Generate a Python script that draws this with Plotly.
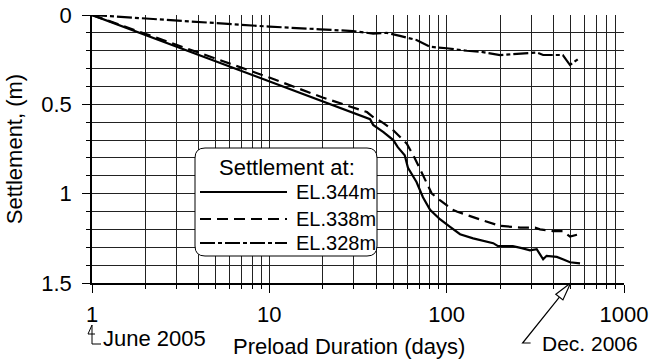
import math
import plotly.graph_objects as go

# Preload duration (days) and settlement (m) for each settlement plate
days_344 = [1, 2, 5, 10, 20, 30, 37, 38.5, 44, 50, 53, 58, 60.5, 67.6, 73.5, 80.6,
            91.6, 104.5, 119, 141, 160, 183, 194, 236, 265, 295, 322, 350, 366,
            418, 452, 496, 565]
settle_344 = [0, 0.112, 0.26, 0.372, 0.484, 0.549, 0.583, 0.615, 0.655, 0.70, 0.74,
              0.785, 0.855, 0.935, 1.02, 1.09, 1.143, 1.186, 1.227, 1.25, 1.264,
              1.277, 1.292, 1.294, 1.305, 1.317, 1.311, 1.367, 1.348, 1.354, 1.367,
              1.384, 1.39]

days_338 = [1, 2, 5, 10, 20, 30, 35.5, 38.5, 44, 50, 59.6, 66, 73.5, 82.5, 91.6,
            108, 114, 130, 148, 160, 200, 260, 315, 336, 398, 452, 496, 543]
settle_338 = [0, 0.105, 0.245, 0.35, 0.462, 0.52, 0.543, 0.571, 0.605, 0.645, 0.72,
              0.80, 0.90, 1.0, 1.036, 1.09, 1.10, 1.12, 1.14, 1.15, 1.18, 1.19,
              1.19, 1.20, 1.21, 1.21, 1.24, 1.23]

days_328 = [1, 2, 3.57, 10, 19.3, 29.7, 38.5, 46, 54.5, 67.6, 80.6, 100, 130, 154,
            200, 260, 322, 350, 452, 496, 553]
settle_328 = [0, 0.02, 0.037, 0.065, 0.08, 0.09, 0.104, 0.10, 0.117, 0.14, 0.178,
              0.186, 0.20, 0.205, 0.224, 0.214, 0.21, 0.224, 0.224, 0.28, 0.245]

series_names = ["EL.344m", "EL.338m", "EL.328m"]
x_tick_vals = [1, 10, 100, 1000]
x_tick_text = ["1", "10", "100", "1000"]
y_tick_vals = [0, 0.5, 1, 1.5]
y_tick_text = ["0", "0.5", "1", "1.5"]

START_DAY = 1      # June 2005
END_DAY = 500      # Dec. 2006
X_LOG_RANGE = [0, 3]

FONT = "Liberation Sans, Arial, sans-serif"
FS = 22
FS_KEY = 20
DASHES = ["solid", "11px,6px", "15px,3px,4px,3px"]

fig = go.Figure()
for xs, ys, name, dash in zip([days_344, days_338, days_328],
                              [settle_344, settle_338, settle_328],
                              series_names, DASHES):
    fig.add_trace(go.Scatter(x=xs, y=ys, mode="lines", name=name, showlegend=False,
                             line=dict(color="black", width=2.2, dash=dash)))

grid_col = "#222222"
fig.update_xaxes(type="log", range=X_LOG_RANGE, tickvals=x_tick_vals, ticktext=x_tick_text,
                 ticks="outside", ticklen=8, tickcolor="black",
                 showline=True, linecolor="black", linewidth=1.5,
                 showgrid=True, gridcolor=grid_col, gridwidth=1,
                 minor=dict(dtick="D1", ticks="outside", ticklen=4, tickcolor="black",
                            showgrid=True, gridcolor=grid_col, gridwidth=1),
                 tickfont=dict(family=FONT, size=FS, color="black"),
                 ticklabelstandoff=3, automargin=False,
                 zeroline=False)
fig.update_yaxes(range=[1.5, 0], tickvals=y_tick_vals, ticktext=y_tick_text,
                 ticks="outside", ticklen=8, tickcolor="black",
                 showline=True, linecolor="black", linewidth=1.5,
                 showgrid=True, gridcolor=grid_col, gridwidth=1,
                 minor=dict(dtick=0.1, ticks="outside", ticklen=4, tickcolor="black",
                            showgrid=True, gridcolor=grid_col, gridwidth=1),
                 tickfont=dict(family=FONT, size=FS, color="black"),
                 ticklabelstandoff=6, automargin=False,
                 title=dict(text="Settlement, (m)", standoff=13,
                            font=dict(family=FONT, size=FS, color="black")),
                 zeroline=False)

shapes = []
# Rounded legend frame (pixel offsets from the plot's top-left corner)
bx0, bx1, by0, by1, r = 103, 285, -133, -241, 10
frame = (f"M{bx0 + r},{by0} L{bx1 - r},{by0} Q{bx1},{by0} {bx1},{by0 - r} "
         f"L{bx1},{by1 + r} Q{bx1},{by1} {bx1 - r},{by1} L{bx0 + r},{by1} "
         f"Q{bx0},{by1} {bx0},{by1 + r} L{bx0},{by0 - r} Q{bx0},{by0} {bx0 + r},{by0} Z")
shapes.append(dict(type="path", xref="paper", yref="paper", xsizemode="pixel",
                   ysizemode="pixel", xanchor=0, yanchor=1, path=frame,
                   line=dict(color="black", width=1), fillcolor="white", layer="above"))
rows = [-177, -204, -228]
for yy, dash in zip(rows, DASHES):
    shapes.append(dict(type="line", xref="paper", yref="paper", xsizemode="pixel",
                       ysizemode="pixel", xanchor=0, yanchor=1, x0=108, x1=195,
                       y0=yy, y1=yy, line=dict(color="black", width=2.2, dash=dash),
                       layer="above"))


def day_to_paper(day):
    lo, hi = X_LOG_RANGE
    return (math.log10(day) - lo) / (hi - lo)


# Callout for the start of preloading
shapes.append(dict(type="path", xref="paper", yref="paper", xsizemode="pixel",
                   ysizemode="pixel", xanchor=day_to_paper(START_DAY), yanchor=0,
                   path="M0,-42 L-4,-51 L3,-51 M0,-42 L0,-61 L9,-61",
                   line=dict(color="black", width=1), layer="above"))
# Callout for the end of preloading
shapes.append(dict(type="path", xref="paper", yref="paper", xsizemode="pixel",
                   ysizemode="pixel", xanchor=day_to_paper(END_DAY), yanchor=0,
                   path="M-11.2,-14.1 L-48,-60 L-40,-60",
                   line=dict(color="black", width=1.2), layer="above"))
shapes.append(dict(type="path", xref="paper", yref="paper", xsizemode="pixel",
                   ysizemode="pixel", xanchor=day_to_paper(END_DAY), yanchor=0,
                   path="M0,0 L-7.7,-16.9 L-14.8,-11.3 Z",
                   line=dict(color="black", width=1.2), fillcolor="white", layer="above"))

annotations = [
    dict(text="Settlement at:", xref="paper", yref="paper", x=0, y=1, xshift=195,
         yshift=-152, xanchor="center", yanchor="middle", showarrow=False,
         font=dict(family=FONT, size=FS, color="black")),
]
for yy, name in zip(rows, series_names):
    annotations.append(dict(text=name, xref="paper", yref="paper", x=0, y=1,
                            xshift=202, yshift=yy, xanchor="left", yanchor="middle",
                            showarrow=False,
                            font=dict(family=FONT, size=FS_KEY, color="black")))
# x-axis title, set slightly left of the plot centre
annotations.append(dict(text="Preload Duration (days)", xref="paper", yref="paper",
                        x=0, y=0, xshift=257, yshift=-63, xanchor="center",
                        yanchor="middle", showarrow=False,
                        font=dict(family=FONT, size=FS, color="black")))
annotations.append(dict(text="June 2005", xref="paper", yref="paper", x=0, y=0,
                        xshift=9, yshift=-55, xanchor="left", yanchor="middle",
                        showarrow=False, font=dict(family=FONT, size=FS, color="black")))
annotations.append(dict(text="Dec. 2006", xref="paper", yref="paper", x=0, y=0,
                        xshift=448, yshift=-60, xanchor="left", yanchor="middle",
                        showarrow=False, font=dict(family=FONT, size=FS - 1, color="black")))

fig.update_layout(width=650, height=360, margin=dict(l=92, r=26, t=15, b=77),
                  paper_bgcolor="white", plot_bgcolor="white",
                  shapes=shapes, annotations=annotations, showlegend=False)

fig.write_html("out.html")
